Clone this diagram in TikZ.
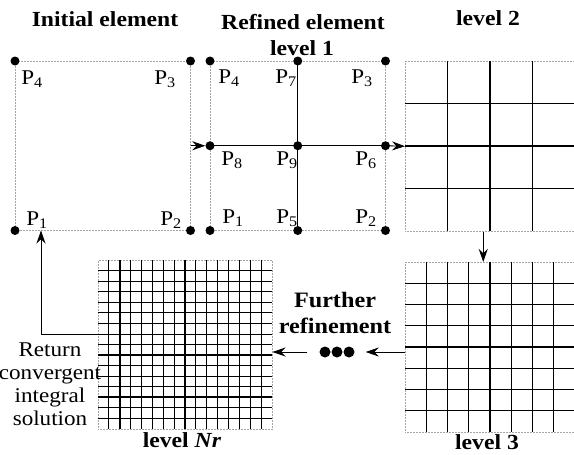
\documentclass[tikz,border=0pt]{standalone}
\usepackage{fontspec}
\setmainfont{Liberation Serif}[FakeStretch=1.1]
\usetikzlibrary{arrows.meta, positioning}

\newcommand{\pt}[1]{P\textsubscript{#1}}

\begin{document}
\begin{tikzpicture}[
  x=1pt, y=1pt,
  font=\fontsize{20}{24}\selectfont,
  title/.style={
    font=\fontsize{21.5}{26}\selectfont\bfseries,
    anchor=base,
    inner sep=0pt
  },
  elem/.style={
    draw=gray!70,
    densely dotted,
    line width=0.5pt,
    inner sep=0pt,
    anchor=north west
  },
  gridline/.style={
    draw=black,
    line width=0.8pt
  },
  thickline/.style={
    draw=black,
    line width=1.7pt
  },
  dot/.style={
    circle,
    fill=black,
    inner sep=0pt,
    minimum size=9pt
  },
  plab/.style={
    font=\fontsize{21}{24}\selectfont,
    anchor=base,
    inner sep=0pt
  },
  arrow/.style={
    draw=black,
    -{Stealth[length=13pt,width=9pt]},
    line width=0.9pt
  }
]

\useasboundingbox (0,0) rectangle (574,-455);

% Titles
\node[title] (inittitle) at (105,-27) {Initial element};
\node[title] (reftitle) at (303,-29) {Refined element};
\node[title] (onetitle) at (302,-55) {level 1};
\node[title] (twotitle) at (488,-25) {level 2};
\node[title] (threetitle) at (487,-449) {level 3};
\node[title] (nrtitle) at (182,-447) {level \textit{Nr}};

% Initial element
\node[elem, minimum width=175pt, minimum height=169pt] (init) at (15,-61) {};
\node[dot] (q4) at (init.north west) {};
\node[dot] (q3) at (init.north east) {};
\node[dot] (q1) at (init.south west) {};
\node[dot] (q2) at (init.south east) {};
\node[plab] (q4lab) at (32,-84) {\pt{4}};
\node[plab] (q3lab) at (165,-84) {\pt{3}};
\node[plab] (q1lab) at (37,-225) {\pt{1}};
\node[plab] (q2lab) at (171,-225) {\pt{2}};

% Level 1
\node[elem, minimum width=175pt, minimum height=169pt] (lvlone) at (210,-61) {};
\draw[gridline] (lvlone.north) -- (lvlone.south);
\draw[gridline] (lvlone.west) -- (lvlone.east);
\node[dot] (p4) at (lvlone.north west) {};
\node[dot] (p7) at (lvlone.north) {};
\node[dot] (p3) at (lvlone.north east) {};
\node[dot] (p8) at (lvlone.west) {};
\node[dot] (p9) at (lvlone.center) {};
\node[dot] (p6) at (lvlone.east) {};
\node[dot] (p1) at (lvlone.south west) {};
\node[dot] (p5) at (lvlone.south) {};
\node[dot] (p2) at (lvlone.south east) {};
\node[plab] (p4lab) at (229,-83) {\pt{4}};
\node[plab] (p7lab) at (286,-83) {\pt{7}};
\node[plab] (p3lab) at (362,-83) {\pt{3}};
\node[plab] (p8lab) at (232,-165) {\pt{8}};
\node[plab] (p9lab) at (287,-165) {\pt{9}};
\node[plab] (p6lab) at (366,-165) {\pt{6}};
\node[plab] (p1lab) at (233,-223) {\pt{1}};
\node[plab] (p5lab) at (287,-223) {\pt{5}};
\node[plab] (p2lab) at (366,-223) {\pt{2}};

% Level 2
\node[elem, minimum width=170pt, minimum height=170pt] (lvltwo) at (405,-61) {};
\begin{scope}[shift={(lvltwo.north west)}]
  \foreach \i in {1,3} {
    \draw[gridline] (\i*42.5,0) -- (\i*42.5,-170);
    \draw[gridline] (0,-\i*42.5) -- (170,-\i*42.5);
  }
  \draw[thickline] (85,0) -- (85,-170);
  \draw[thickline] (0,-85) -- (170,-85);
\end{scope}

% Level 3
\node[elem, minimum width=170pt, minimum height=170pt] (lvlthree) at (405,-262) {};
\begin{scope}[shift={(lvlthree.north west)}]
  \foreach \i in {1,...,7} {
    \draw[gridline] (\i*21.25,0) -- (\i*21.25,-170);
    \draw[gridline] (0,-\i*21.25) -- (170,-\i*21.25);
  }
  \draw[thickline] (85,0) -- (85,-170);
  \foreach \j in {2,4}
    \draw[thickline] (0,-\j*21.25) -- (170,-\j*21.25);
\end{scope}

% Level Nr
\node[elem, minimum width=174pt, minimum height=169pt] (lvlnr) at (98,-260) {};
\begin{scope}[shift={(lvlnr.north west)}]
  \foreach \i in {1,...,15} {
    \draw[gridline] (\i*10.875,0) -- (\i*10.875,-169);
    \draw[gridline] (0,-\i*10.5625) -- (174,-\i*10.5625);
  }
  \foreach \i in {2,3,8,13}
    \draw[thickline] (\i*10.875,0) -- (\i*10.875,-169);
  \foreach \j in {9,13}
    \draw[thickline] (0,-\j*10.5625) -- (174,-\j*10.5625);
\end{scope}

% Further refinement
\node[title, anchor=north, align=center, font=\fontsize{22}{26}\selectfont\bfseries]
  (further) at (335,-292) {Further\\refinement};
\node[dot, minimum size=11pt] (d1) at (325,-352) {};
\node[dot, minimum size=11pt] (d2) at (337,-352) {};
\node[dot, minimum size=11pt] (d3) at (349,-352) {};

% Return text
\node[inner sep=0pt, anchor=north, align=center, font=\fontsize{21}{23}\selectfont]
  (ret) at (50,-343) {Return\\convergent\\integral\\solution};

% Arrows
\draw[arrow] (init.east) -- (p8);
\draw[arrow] (p6) -- (lvltwo.west);
\draw[arrow] ([xshift=-7pt]lvltwo.south) -- ([xshift=-7pt]lvlthree.north);
\draw[arrow, shorten >=11pt] (lvlthree.west |- d3) -- (d3);
\draw[arrow, shorten <=12pt] (d1) -- (d1 -| lvlnr.east);
\draw[arrow] ([yshift=10pt]lvlnr.west) -| ([xshift=26pt]init.south west);

\end{tikzpicture}
\end{document}
